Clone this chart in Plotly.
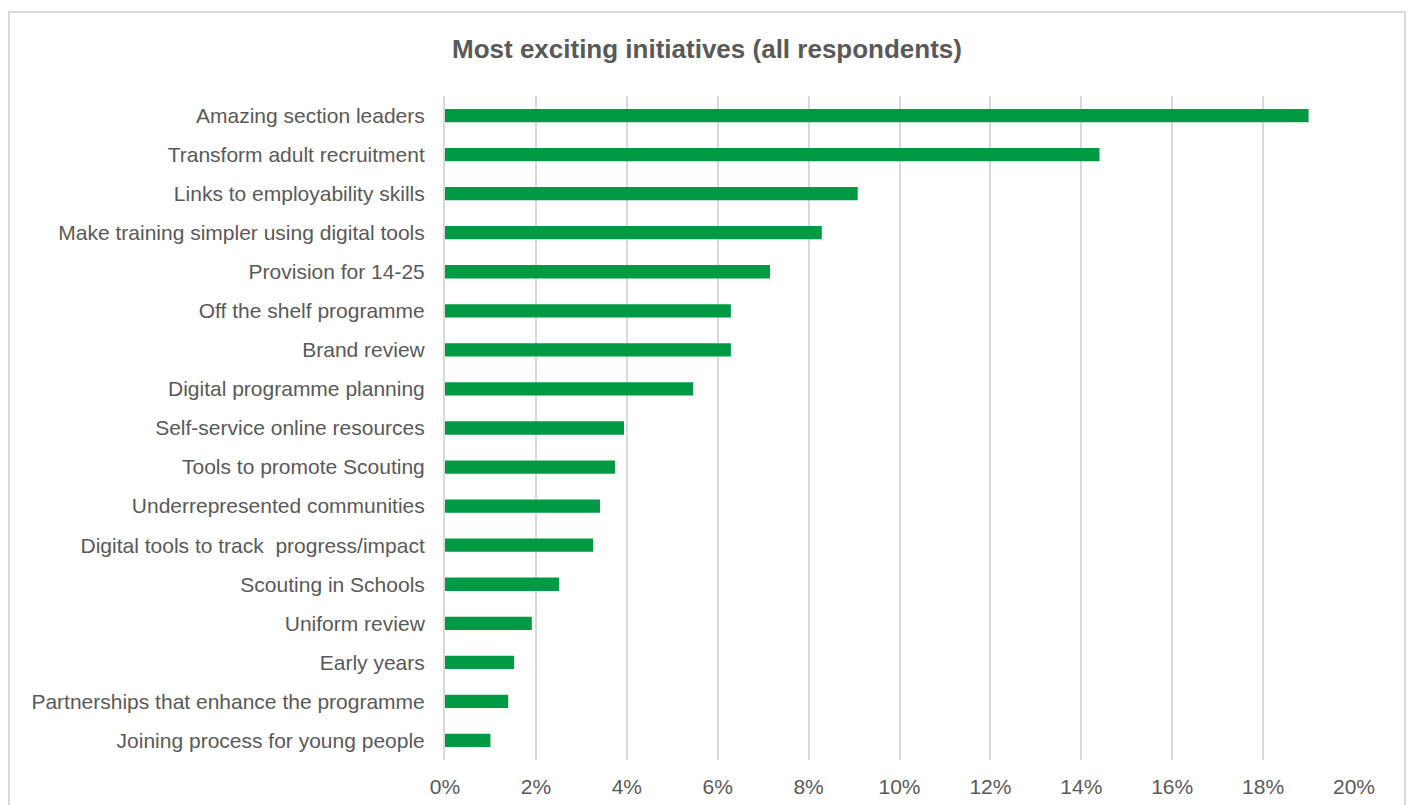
import plotly.graph_objects as go

# Share of respondents naming each initiative as the most exciting (%)
initiatives = [
    "Amazing section leaders",
    "Transform adult recruitment",
    "Links to employability skills",
    "Make training simpler using digital tools",
    "Provision for 14-25",
    "Off the shelf programme",
    "Brand review",
    "Digital programme planning",
    "Self-service online resources",
    "Tools to promote Scouting",
    "Underrepresented communities",
    "Digital tools to track  progress/impact",
    "Scouting in Schools",
    "Uniform review",
    "Early years",
    "Partnerships that enhance the programme",
    "Joining process for young people",
]
shares = [19.0, 14.4, 9.08, 8.29, 7.15, 6.29, 6.29, 5.46, 3.94, 3.74,
          3.41, 3.26, 2.51, 1.91, 1.52, 1.39, 1.0]
x_ticks = [0, 2, 4, 6, 8, 10, 12, 14, 16, 18, 20]

W, H = 1411, 805
ML, MR, MT, MB = 445, 57, 96, 45
PW, PH = W - ML - MR, H - MT - MB

FONT = "Liberation Sans, Arial, sans-serif"
GREY = "#595959"

fig = go.Figure(
    go.Bar(
        x=shares,
        y=initiatives,
        orientation="h",
        marker=dict(color="#009a44", line=dict(width=0)),
        hoverinfo="skip",
    )
)

# Outer chart frame, expressed in plot-area (paper) fractions
fx0 = (9 - ML) / PW
fx1 = (1405 - ML) / PW
fy1 = 1 + (MT - 12) / PH
fy0 = -(MB + 20) / PH

fig.update_layout(
    width=W,
    height=H,
    margin=dict(l=ML, r=MR, t=MT, b=MB, autoexpand=False),
    paper_bgcolor="white",
    plot_bgcolor="white",
    bargap=0.66,
    showlegend=False,
    title=dict(
        text="<b>Most exciting initiatives (all respondents)</b>",
        x=707 / W,
        xanchor="center",
        y=1 - 49 / H,
        yanchor="middle",
        font=dict(family=FONT, size=26, color=GREY),
    ),
    font=dict(family=FONT, color=GREY),
    xaxis=dict(
        range=[0, 20],
        tickvals=x_ticks,
        ticktext=[f"{v}%" for v in x_ticks],
        showgrid=True,
        gridcolor="#d9d9d9",
        gridwidth=2,
        zeroline=False,
        showline=False,
        ticks="",
        ticklabelstandoff=12,
        tickfont=dict(family=FONT, size=21, color=GREY),
        fixedrange=True,
    ),
    yaxis=dict(
        categoryorder="array",
        categoryarray=initiatives[::-1],
        showgrid=False,
        zeroline=False,
        showline=True,
        linecolor="#d9d9d9",
        linewidth=2,
        ticks="",
        ticklabelstandoff=14,
        tickfont=dict(family=FONT, size=21, color=GREY),
        fixedrange=True,
    ),
    shapes=[
        dict(
            type="rect",
            xref="paper",
            yref="paper",
            x0=fx0,
            x1=fx1,
            y0=fy0,
            y1=fy1,
            line=dict(color="#d9d9d9", width=2),
            fillcolor="rgba(0,0,0,0)",
            layer="below",
        )
    ],
)

fig.write_html("out.html", config={"displayModeBar": False})
